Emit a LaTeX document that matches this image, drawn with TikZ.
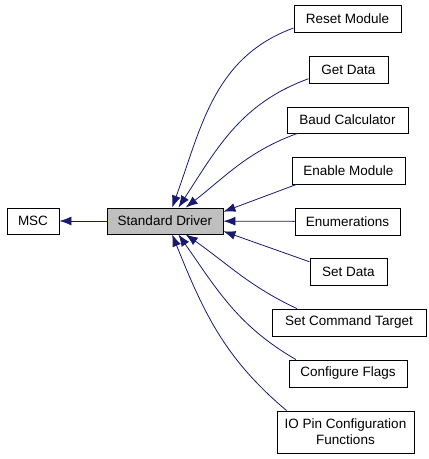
\documentclass[tikz,border=0pt]{standalone}
\usepackage{fontspec}
\setmainfont{Liberation Sans}
\usepackage{xcolor}
\usepackage{tikz}
\usetikzlibrary{arrows.meta}

\definecolor{edgeblue}{HTML}{191970}
\definecolor{groupgray}{HTML}{BFBFBF}

\begin{document}
\begin{tikzpicture}[
    x=1pt, y=1pt,
    box/.style={rectangle, draw=black, line width=0.9pt, fill=white, minimum height=26pt, inner sep=0pt, align=center, font=\fontsize{13.5}{16}\selectfont},
    current/.style={box, fill=groupgray},
    arrow/.style={-{Latex[length=12pt,width=9pt]}, edgeblue, line width=0.8pt}
]
\useasboundingbox (0,0) rectangle (429,459);

\node[box, minimum width=52pt] (msc) at (33,238) {MSC};
\node[current, minimum width=116pt] (std) at (165,238) {Standard Driver};

\node[box, minimum width=107pt, minimum height=27pt] (reset) at (347.5,440.5) {Reset Module};
\node[box, minimum width=79pt, minimum height=27pt] (getdata) at (348.5,389.5) {Get Data};
\node[box, minimum width=121pt] (baud) at (347.5,339) {Baud Calculator};
\node[box, minimum width=113pt, minimum height=27pt] (enable) at (348.5,288.5) {Enable Module};
\node[box, minimum width=105pt, minimum height=27pt] (enums) at (347.5,237.5) {Enumerations};
\node[box, minimum width=77pt, minimum height=27pt] (setdata) at (348.5,187.5) {Set Data};
\node[box, minimum width=154pt, minimum height=27pt] (cmdtarget) at (349,136.5) {Set Command Target};
\node[box, minimum width=118pt, minimum height=27pt] (flags) at (348,85.5) {Configure Flags};
\node[box, minimum width=137pt, minimum height=42pt] (iopin) at (345.5,27) {IO Pin Configuration\\Functions};

\draw[arrow] (std) -- (msc);

\draw[arrow] (reset.190) to[out=200, in=70] (std.62);
\draw[arrow] (getdata.193) to[out=200, in=57] (std.45);
\draw[arrow] (baud.195) to[out=200, in=38] (std.33);
\draw[arrow] (enable.195) -- (std.9);
\draw[arrow] (enums) -- (std);
\draw[arrow] (setdata.166) -- (std.-10);
\draw[arrow] (cmdtarget.165) to[out=155, in=-35] (std.-33);
\draw[arrow] (flags.165) to[out=150, in=-55] (std.-45);
\draw[arrow] (iopin.160) to[out=140, in=-68] (std.-62);

\end{tikzpicture}
\end{document}
